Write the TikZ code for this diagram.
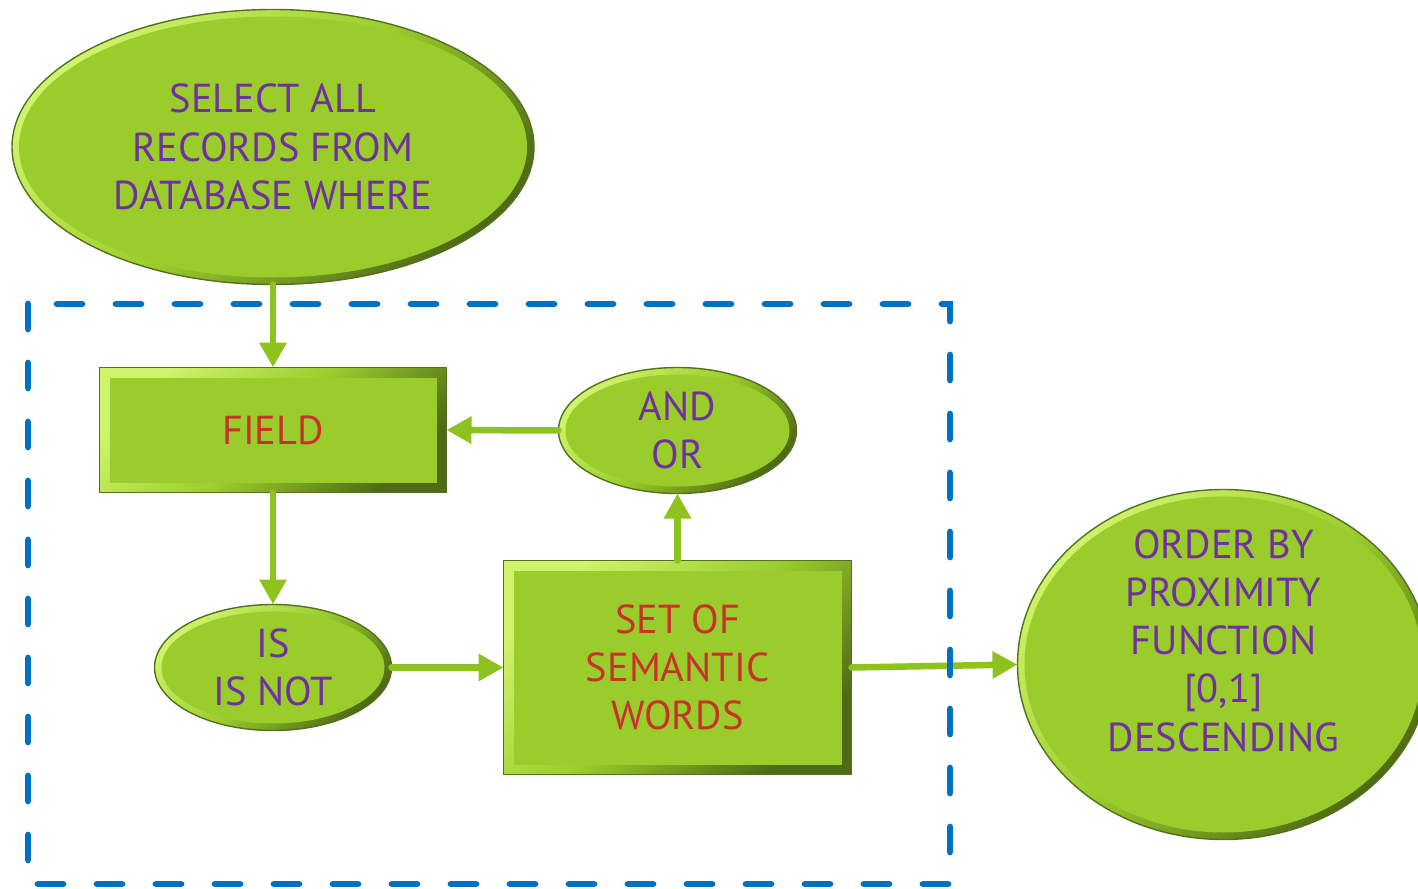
\documentclass[tikz,border=0pt]{standalone}
\usepackage{fontspec}
\setmainfont{PT Sans}
\usetikzlibrary{shapes.geometric, arrows.meta, positioning, calc}

\definecolor{leafgreen}{HTML}{9ACD2C}
\definecolor{bevellight}{HTML}{CFF36A}
\definecolor{beveldark}{HTML}{4E6A14}
\definecolor{rimolive}{HTML}{55701E}
\definecolor{flowgreen}{HTML}{8DC21F}
\definecolor{frameblue}{HTML}{0070C0}
\definecolor{wordpurple}{HTML}{7030A0}
\definecolor{wordred}{HTML}{C8322A}

\newcommand{\diagfont}{\fontsize{23}{27.5}\selectfont}

\begin{document}
\begin{tikzpicture}[auto, node distance=2cm, >={Triangle[length=5mm, width=5.2mm]}]
    \tikzset{
        bevel/.style={draw=rimolive, line width=0.8pt, outer sep=0pt, top color=bevellight, bottom color=beveldark, middle color=leafgreen, shading angle=45},
        block/.style={bevel, rectangle, align=center, text=wordred, font=\diagfont,
            path picture={\fill[leafgreen] ([shift={(2mm,-2mm)}]path picture bounding box.north west) rectangle ([shift={(-2mm,2mm)}]path picture bounding box.south east);}},
        term/.style={bevel, ellipse, inner sep=0pt, align=center, text=wordpurple, font=\diagfont,
            path picture={\fill[leafgreen] let \p1=($(path picture bounding box.north east)-(path picture bounding box.center)$) in (path picture bounding box.center) ellipse [x radius=\x1-1.4mm, y radius=\y1-1.4mm];}},
        flow/.style={->, draw=flowgreen, line width=1.3mm, line cap=round},
        frame/.style={draw=frameblue, line width=1.35mm, line cap=round, dash pattern=on 5mm off 6.8mm}
    }
    \clip (0,0) rectangle (28.36,-17.78);

    % --- Consulta ---
    \node [term, minimum width=10.44cm, minimum height=5.5cm] (select) at (5.46,-2.94) {SELECT ALL\\ RECORDS FROM\\ DATABASE WHERE};

    % --- Bloque de condiciones ---
    \node [block, minimum width=6.94cm, minimum height=2.5cm, below=1.66cm of select] (field) {FIELD};
    \node [term, minimum width=4.74cm, minimum height=2.52cm, below=2.24cm of field] (isnot) {IS\\ IS NOT};
    \node [block, minimum width=6.96cm, minimum height=4.28cm, right=2.24cm of isnot] (words) {SET OF\\ SEMANTIC\\ WORDS};
    \node [term, minimum width=4.76cm, minimum height=2.52cm, above=1.34cm of words] (andor) {AND\\ OR};

    % --- Ordenacion ---
    \node [term, minimum width=8.24cm, minimum height=7cm, right=3.32cm of words, yshift=0.06cm,
        label={[text=wordpurple, font=\diagfont, align=center, yshift=4.8mm]center:ORDER BY\\ PROXIMITY\\ FUNCTION\\{}[0,1]\\ DESCENDING}] (order) {};

    % --- Conexiones ---
    \draw [flow] (select.south) -- (field.north);
    \draw [flow] (field.south) -- (isnot.north);
    \draw [flow] (isnot.east) -- (words.west);
    \draw [flow] (words.north) -- (andor.south);
    \draw [flow] (andor.west) -- (field.east);
    \draw [flow] (words.east) -- (order.west);

    % --- Marco discontinuo ---
    \draw [frame] (0.56,-6.08) rectangle (19.0,-17.68);
\end{tikzpicture}
\end{document}
